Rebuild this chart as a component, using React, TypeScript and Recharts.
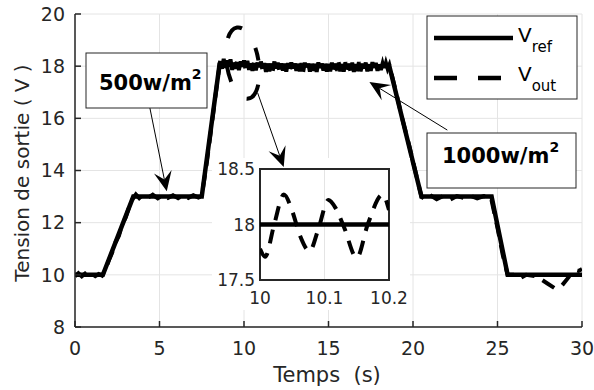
import React from "react";
import { LineChart, Line, XAxis, YAxis, CartesianGrid, ReferenceLine, ReferenceDot, ReferenceArea } from "recharts";

const FONT = "DejaVu Sans, Verdana, sans-serif";
const INK = "#262626";

// axes of the main figure
const xTicks = [0, 5, 10, 15, 20, 25, 30];
const yTicks = [8, 10, 12, 14, 16, 18, 20];

// reference voltage (s, V)
const vrefTime = [0, 1.65, 3.45, 7.5, 8.55, 18.6, 20.5, 24.65, 25.6, 30];
const vrefVolt = [10, 10, 13, 13, 18.05, 18, 13, 13, 10, 10];

// measured output (s, V)
const voutTime = [
  0, 0.2, 0.4, 0.6, 0.8, 1.0, 1.2, 1.4, 1.6, 1.8, 2.0, 2.2, 2.4, 2.6, 2.8, 3.0, 3.2, 3.4, 3.6, 3.8,
  4.0, 4.3, 4.6, 4.9, 5.2, 5.5, 5.8, 6.1, 6.4, 6.7, 7.0, 7.3, 7.5, 7.8, 8.1, 8.4,
  8.6, 8.7, 8.8, 8.9, 9.0, 9.1, 9.2, 9.3, 9.4, 9.5,
  9.6, 9.7, 9.8, 9.9, 10.0, 10.1, 10.2, 10.3, 10.4, 10.5,
  10.6, 10.7, 10.8, 10.9, 11.0, 11.1, 11.2, 11.3, 11.4, 11.5,
  11.6, 11.7, 11.8, 11.9, 12.0, 12.1, 12.2, 12.3, 12.4, 12.5,
  12.6, 12.7, 12.8, 12.9, 13.0, 13.1, 13.2, 13.3, 13.4, 13.5,
  13.6, 13.7, 13.8, 13.9, 14.0, 14.1, 14.2, 14.3, 14.4, 14.5,
  14.6, 14.7, 14.8, 14.9, 15.0, 15.1, 15.2, 15.3, 15.4, 15.5,
  15.6, 15.7, 15.8, 15.9, 16.0, 16.1, 16.2, 16.3, 16.4, 16.5,
  16.6, 16.7, 16.8, 16.9, 17.0, 17.1, 17.2, 17.3, 17.4, 17.5,
  17.6, 17.7, 17.8, 17.9, 18.0, 18.1, 18.2, 18.3, 18.4, 18.5,
  18.6, 19.0, 19.4, 19.8, 20.2, 20.5,
  20.8, 21.1, 21.4, 21.8, 22.2, 22.6, 23.0, 23.4, 23.8, 24.2, 24.6, 25.0, 25.3, 25.6, 26.0, 26.3, 26.7,
  27.2, 27.6, 28.0, 28.4, 28.8, 29.2, 29.5, 29.8, 30.0,
];
const voutVolt = [
  9.95, 10.06, 9.94, 10.05, 9.96, 10.04, 9.95, 10.03, 9.97, 10.2, 10.55, 10.85, 11.25, 11.5, 11.95, 12.2, 12.6, 12.9, 13.08, 12.94,
  13.06, 12.95, 13.07, 12.93, 13.06, 12.95, 13.05, 12.94, 13.06, 12.95, 13.05, 12.96, 13.02, 14.3, 15.8, 17.3,
  18.25, 17.9, 18.28, 17.88, 18.22, 17.92, 18.26, 17.86, 18.2, 17.9,
  18.24, 17.85, 18.18, 17.88, 18.22, 17.84, 18.2, 17.86, 18.16, 17.82,
  18.2, 17.84, 18.14, 17.8, 18.18, 17.82, 18.12, 17.78, 18.16, 17.8,
  18.12, 17.82, 18.18, 17.78, 18.14, 17.8, 18.1, 17.83, 18.16, 17.79,
  18.12, 17.8, 18.15, 17.78, 18.1, 17.82, 18.16, 17.8, 18.12, 17.78,
  18.14, 17.81, 18.1, 17.79, 18.16, 17.82, 18.12, 17.78, 18.15, 17.8,
  18.1, 17.83, 18.16, 17.79, 18.12, 17.8, 18.14, 17.78, 18.1, 17.82,
  18.16, 17.8, 18.12, 17.79, 18.15, 17.82, 18.1, 17.8, 18.14, 17.78,
  18.12, 17.81, 18.16, 17.8, 18.1, 17.83, 18.14, 17.8, 18.12, 17.82,
  18.15, 17.84, 18.12, 17.82, 18.14, 17.85, 18.1, 17.86, 18.12, 17.9,
  18.05, 17.0, 15.9, 14.9, 13.8, 13.0,
  12.85, 13.02, 12.9, 13.03, 12.88, 13.02, 12.95, 13.03, 12.93, 13.02, 13.0, 11.8, 10.8, 10.0, 10.0, 9.85, 10.0,
  9.95, 9.82, 9.65, 9.48, 9.58, 9.9, 10.2, 10.15, 10.22,
];

// zoomed window 10 s .. 10.2 s
const zoomXTicks = [10, 10.1, 10.2];
const zoomYTicks = [17.5, 18, 18.5];
const zoomRefTime = [10, 10.2];
const zoomRefVolt = [18, 18];
const zoomTime = [10.0, 10.008, 10.022, 10.037, 10.05, 10.062, 10.077, 10.09, 10.106, 10.117, 10.13, 10.15, 10.167, 10.19, 10.2];
const zoomVout = [17.78, 17.71, 18.0, 18.27, 18.12, 17.9, 17.76, 17.95, 18.22, 18.15, 17.98, 17.7, 18.0, 18.27, 18.13];

// annotation arrows (s, V)
const arrows = [
  { x1: 4.43, y1: 16.4, x2: 5.43, y2: 13.2 },
  { x1: 10.81, y1: 16.97, x2: 12.35, y2: 14.13 },
  { x1: 22.03, y1: 15.55, x2: 17.42, y2: 17.39 },
];
const ringCenter = { t: 9.92, v: 18.12 };

const zip = (t: number[], v: number[]) => t.map((x, i) => ({ t: x, v: v[i] }));
const vrefData = zip(vrefTime, vrefVolt);
const voutData = zip(voutTime, voutVolt);
const zoomRefData = zip(zoomRefTime, zoomRefVolt);
const zoomOutData = zip(zoomTime, zoomVout);

const tickStyle = { fill: INK, fontSize: 19, fontFamily: FONT };
const zoomTickStyle = { fill: INK, fontSize: 17, fontFamily: FONT };

const Arrow = (p: any) => {
  const { x1, y1, x2, y2 } = p;
  const a = Math.atan2(y2 - y1, x2 - x1);
  const c = Math.cos(a), s = Math.sin(a);
  const L = 20, W = 9, N = 12;
  const px = -s, py = c;
  const lx = x2 - L * c + W * px, ly = y2 - L * s + W * py;
  const rx = x2 - L * c - W * px, ry = y2 - L * s - W * py;
  const nx = x2 - N * c, ny = y2 - N * s;
  return (
    <g>
      <line x1={x1} y1={y1} x2={nx} y2={ny} stroke="#000" strokeWidth={1} />
      <polygon points={`${x2},${y2} ${lx},${ly} ${nx},${ny} ${rx},${ry}`} fill="#000" />
    </g>
  );
};

const Ring = (p: any) => (
  <ellipse
    cx={p.cx}
    cy={p.cy}
    rx={16}
    ry={36}
    transform={`rotate(-9 ${p.cx} ${p.cy})`}
    fill="none"
    stroke="#000"
    strokeWidth={4}
    strokeDasharray="20 24"
    strokeDashoffset={20}
  />
);

export default function App() {
  return (
    <div style={{ position: "absolute", left: 0, top: 0, width: 594, height: 390, background: "#fff", fontFamily: FONT }}>
      {/* main plot */}
      <div style={{ position: "absolute", left: 0, top: 0 }}>
        <LineChart width={594} height={390} margin={{ top: 14, right: 12, bottom: 33, left: 25 }}>
          <CartesianGrid stroke="#e4e4e4" strokeWidth={1} />
          <XAxis
            dataKey="t"
            type="number"
            domain={[0, 30]}
            ticks={xTicks}
            allowDataOverflow
            height={30}
            tickSize={-6}
            tickMargin={21}
            tick={tickStyle}
            stroke={INK}
            strokeWidth={1.5}
          />
          <XAxis xAxisId="top" orientation="top" type="number" domain={[0, 30]} ticks={xTicks} allowDataOverflow height={0} tickSize={-6} tick={false} stroke={INK} strokeWidth={1.5} />
          <YAxis
            type="number"
            domain={[8, 20]}
            ticks={yTicks}
            allowDataOverflow
            width={50}
            tickSize={-6}
            tickMargin={16}
            tick={tickStyle}
            stroke={INK}
            strokeWidth={1.5}
          />
          <YAxis yAxisId="right" orientation="right" type="number" domain={[8, 20]} ticks={yTicks} allowDataOverflow width={0} tickSize={-6} tick={false} stroke={INK} strokeWidth={1.5} />
          <Line data={vrefData} dataKey="v" type="linear" stroke="#000" strokeWidth={4.5} dot={false} isAnimationActive={false} />
          <Line data={voutData} dataKey="v" type="linear" stroke="#000" strokeWidth={4} strokeDasharray="14 9" dot={false} isAnimationActive={false} />
        </LineChart>
      </div>

      {/* zoomed inset */}
      <div style={{ position: "absolute", left: 212, top: 158, width: 198, height: 152, background: "#fff" }}>
        <LineChart width={198} height={152} margin={{ top: 11, right: 21, bottom: 4, left: 0 }}>
          <CartesianGrid stroke="#e4e4e4" strokeWidth={1} />
          <XAxis
            dataKey="t"
            type="number"
            domain={[10, 10.2]}
            ticks={zoomXTicks}
            allowDataOverflow
            height={26}
            tickSize={0}
            tickLine={false}
            axisLine={false}
            tickMargin={12}
            tick={zoomTickStyle}
          />
          <YAxis
            type="number"
            domain={[17.5, 18.5]}
            ticks={zoomYTicks}
            allowDataOverflow
            width={48}
            tickSize={0}
            tickLine={false}
            axisLine={false}
            tickMargin={5}
            tick={zoomTickStyle}
          />
          <Line data={zoomRefData} dataKey="v" type="linear" stroke="#000" strokeWidth={4.5} dot={false} isAnimationActive={false} />
          <Line data={zoomOutData} dataKey="v" type="monotone" stroke="#000" strokeWidth={4} strokeDasharray="14 10" dot={false} isAnimationActive={false} />
          <ReferenceArea x1={10} x2={10.2} y1={17.5} y2={18.5} fill="none" stroke={INK} strokeWidth={2} fillOpacity={0} />
        </LineChart>
      </div>

      {/* arrows and zoom ring, same scales as the main plot */}
      <div style={{ position: "absolute", left: 0, top: 0, pointerEvents: "none" }}>
        <LineChart width={594} height={390} margin={{ top: 14, right: 12, bottom: 63, left: 75 }}>
          <XAxis dataKey="t" type="number" domain={[0, 30]} allowDataOverflow hide />
          <YAxis type="number" domain={[8, 20]} allowDataOverflow hide />
          <Line data={vrefData} dataKey="v" stroke="none" dot={false} isAnimationActive={false} />
          <ReferenceDot x={ringCenter.t} y={ringCenter.v} r={1} shape={Ring} />
          {arrows.map((a, i) => (
            <ReferenceLine
              key={i}
              segment={[{ x: a.x1, y: a.y1 }, { x: a.x2, y: a.y2 }]}
              shape={Arrow}
            />
          ))}
        </LineChart>
      </div>

      {/* labels, legend and text boxes */}
      <svg width={594} height={390} style={{ position: "absolute", left: 0, top: 0, pointerEvents: "none" }} fontFamily={FONT}>
        <text x={22} y={173} transform="rotate(-90 22 173)" textAnchor="middle" dominantBaseline="central" fontSize={20} fill={INK}>
          Tension de sortie ( V )
        </text>
        <text x={327} y={382} textAnchor="middle" fontSize={21} fill={INK} style={{ whiteSpace: "pre" }}>
          {"Temps  (s)"}
        </text>

        <rect x={427} y={16} width={150} height={83} fill="#fff" stroke={INK} strokeWidth={1} />
        <line x1={434} y1={38} x2={513} y2={38} stroke="#000" strokeWidth={4.5} />
        <text x={518} y={42} fontSize={20} fill="#000">
          V<tspan fontSize={15} dy={10}>ref</tspan>
        </text>
        <line x1={434} y1={78} x2={513} y2={78} stroke="#000" strokeWidth={4.5} strokeDasharray="23 21" />
        <text x={518} y={81} fontSize={20} fill="#000">
          V<tspan fontSize={15} dy={10}>out</tspan>
        </text>

        <rect x={86} y={53} width={121} height={55} fill="#fff" stroke={INK} strokeWidth={1} />
        <text x={99} y={90} fontSize={21} fontWeight="bold" fill="#000">
          500w/m<tspan fontSize={14} dy={-11}>2</tspan>
        </text>

        <rect x={427} y={133} width={149} height={55} fill="#fff" stroke={INK} strokeWidth={1} />
        <text x={442} y={163} fontSize={21} fontWeight="bold" fill="#000">
          1000w/m<tspan fontSize={14} dy={-11}>2</tspan>
        </text>
      </svg>
    </div>
  );
}
